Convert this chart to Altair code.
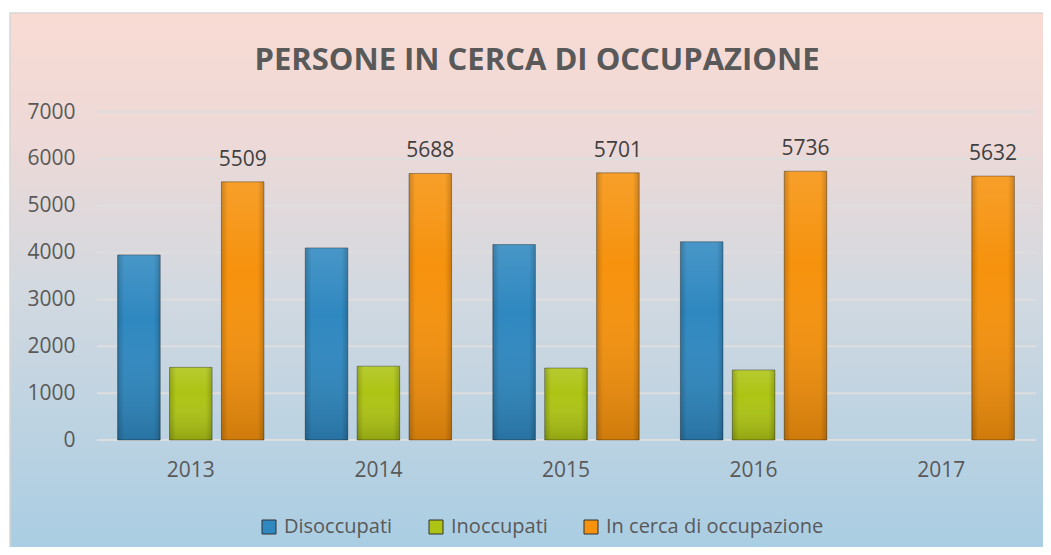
import altair as alt
import pandas as pd

years = ["2013", "2014", "2015", "2016", "2017"]
series = ["Disoccupati", "Inoccupati", "In cerca di occupazione"]
disoccupati = [3950, 4100, 4170, 4230, None]
inoccupati = [1550, 1575, 1535, 1495, None]
in_cerca = [5509, 5688, 5701, 5736, 5632]
colors = ["#2f88c0", "#adc414", "#f6920d"]
y_ticks = [0, 1000, 2000, 3000, 4000, 5000, 6000, 7000]

rows = []
for i, yr in enumerate(years):
    for s, vals in zip(series, [disoccupati, inoccupati, in_cerca]):
        if vals[i] is not None:
            rows.append({"anno": yr, "serie": s, "valore": vals[i]})
df = pd.DataFrame(rows)

FONT = "Open Sans"
W, H = 938, 328

yscale = alt.Scale(domain=[0, 7000], nice=False)
yaxis = alt.Axis(values=y_ticks, grid=False, ticks=False, domain=False, format="d",
                 labelFontSize=21, labelColor="#595959", labelFont=FONT,
                 labelPadding=22, title=None, zindex=1)
xscale = alt.Scale(domain=years, paddingInner=0.22, paddingOuter=0.11)
xaxis = alt.Axis(labelAngle=0, ticks=False, domain=False, labelFontSize=21,
                 labelColor="#595959", labelFont=FONT, labelPadding=19, title=None,
                 zindex=1)
xoff = alt.XOffset("serie:N", scale=alt.Scale(domain=series, paddingInner=0.18, paddingOuter=0))

bg = alt.Chart(pd.DataFrame({"k": [0]})).mark_rect(
    color=alt.Gradient(
        gradient="linear", x1=0, y1=0, x2=0, y2=1,
        stops=[alt.GradientStop(color="#f9dbd3", offset=0),
               alt.GradientStop(color="#ecd9d8", offset=0.25),
               alt.GradientStop(color="#d3d9e0", offset=0.5),
               alt.GradientStop(color="#a8cde3", offset=1)]),
    stroke="#d6d6d6", strokeWidth=1.5
).encode(x=alt.value(-87), x2=alt.value(960), y=alt.value(-99), y2=alt.value(445))

grid = alt.Chart(pd.DataFrame({"v": y_ticks})).mark_rule(
    color="#dedede", strokeWidth=2
).encode(y=alt.Y("v:Q", scale=yscale, axis=yaxis), x=alt.value(0), x2=alt.value(W + 1))

bars = alt.Chart(df).mark_bar(stroke="rgba(0,0,0,0.35)", strokeWidth=1).encode(
    x=alt.X("anno:N", scale=xscale, axis=xaxis),
    xOffset=xoff,
    y=alt.Y("valore:Q", scale=yscale, axis=yaxis),
    color=alt.Color("serie:N", scale=alt.Scale(domain=series, range=colors),
                    legend=alt.Legend(orient="none", legendX=162, legendY=405,
                                      direction="horizontal", title=None,
                                      symbolType="square", symbolSize=196,
                                      symbolStrokeColor="#303030", symbolStrokeWidth=1,
                                      labelFontSize=20, labelFont=FONT, labelLimit=400,
                                      labelColor="#595959", labelOffset=5,
                                      columnPadding=33)),
)

shade_v = alt.Chart(df).mark_bar().encode(
    x=alt.X("anno:N", scale=xscale, axis=xaxis),
    xOffset=xoff,
    y=alt.Y("valore:Q", scale=yscale, axis=yaxis),
    fill=alt.value(alt.Gradient(
        gradient="linear", x1=0, y1=0, x2=0, y2=1,
        stops=[alt.GradientStop(color="rgba(255,255,255,0.12)", offset=0),
               alt.GradientStop(color="rgba(255,255,255,0.0)", offset=0.35),
               alt.GradientStop(color="rgba(0,0,0,0.16)", offset=1)])),
)

shade_h = alt.Chart(df).mark_bar().encode(
    x=alt.X("anno:N", scale=xscale, axis=xaxis),
    xOffset=xoff,
    y=alt.Y("valore:Q", scale=yscale, axis=yaxis),
    fill=alt.value(alt.Gradient(
        gradient="linear", x1=0, y1=0, x2=1, y2=0,
        stops=[alt.GradientStop(color="rgba(0,0,0,0.18)", offset=0),
               alt.GradientStop(color="rgba(0,0,0,0.0)", offset=0.15),
               alt.GradientStop(color="rgba(0,0,0,0.0)", offset=0.85),
               alt.GradientStop(color="rgba(0,0,0,0.18)", offset=1)])),
)

labels = alt.Chart(df).transform_filter(
    alt.datum.serie == "In cerca di occupazione"
).mark_text(baseline="alphabetic", dy=-16, fontSize=21, font=FONT, color="#404040").encode(
    x=alt.X("anno:N", scale=xscale, axis=xaxis),
    xOffset=xoff,
    y=alt.Y("valore:Q", scale=yscale, axis=yaxis),
    text=alt.Text("valore:Q", format="d"),
)

chart = alt.layer(bg, grid, bars, shade_v, shade_h, labels).properties(
    width=W, height=H,
    title=alt.TitleParams("PERSONE IN CERCA DI OCCUPAZIONE", fontSize=31, font=FONT,
                          fontWeight="bold", color="#595959", anchor="middle",
                          baseline="alphabetic", frame="group", dx=-29, offset=-89),
    autosize=alt.AutoSizeParams(type="none"),
    padding={"left": 89, "top": 104, "right": 8, "bottom": 107},
).configure_view(stroke=None).configure(background="white")

chart.save("out.html", embed_options={"renderer": "svg", "actions": False})
